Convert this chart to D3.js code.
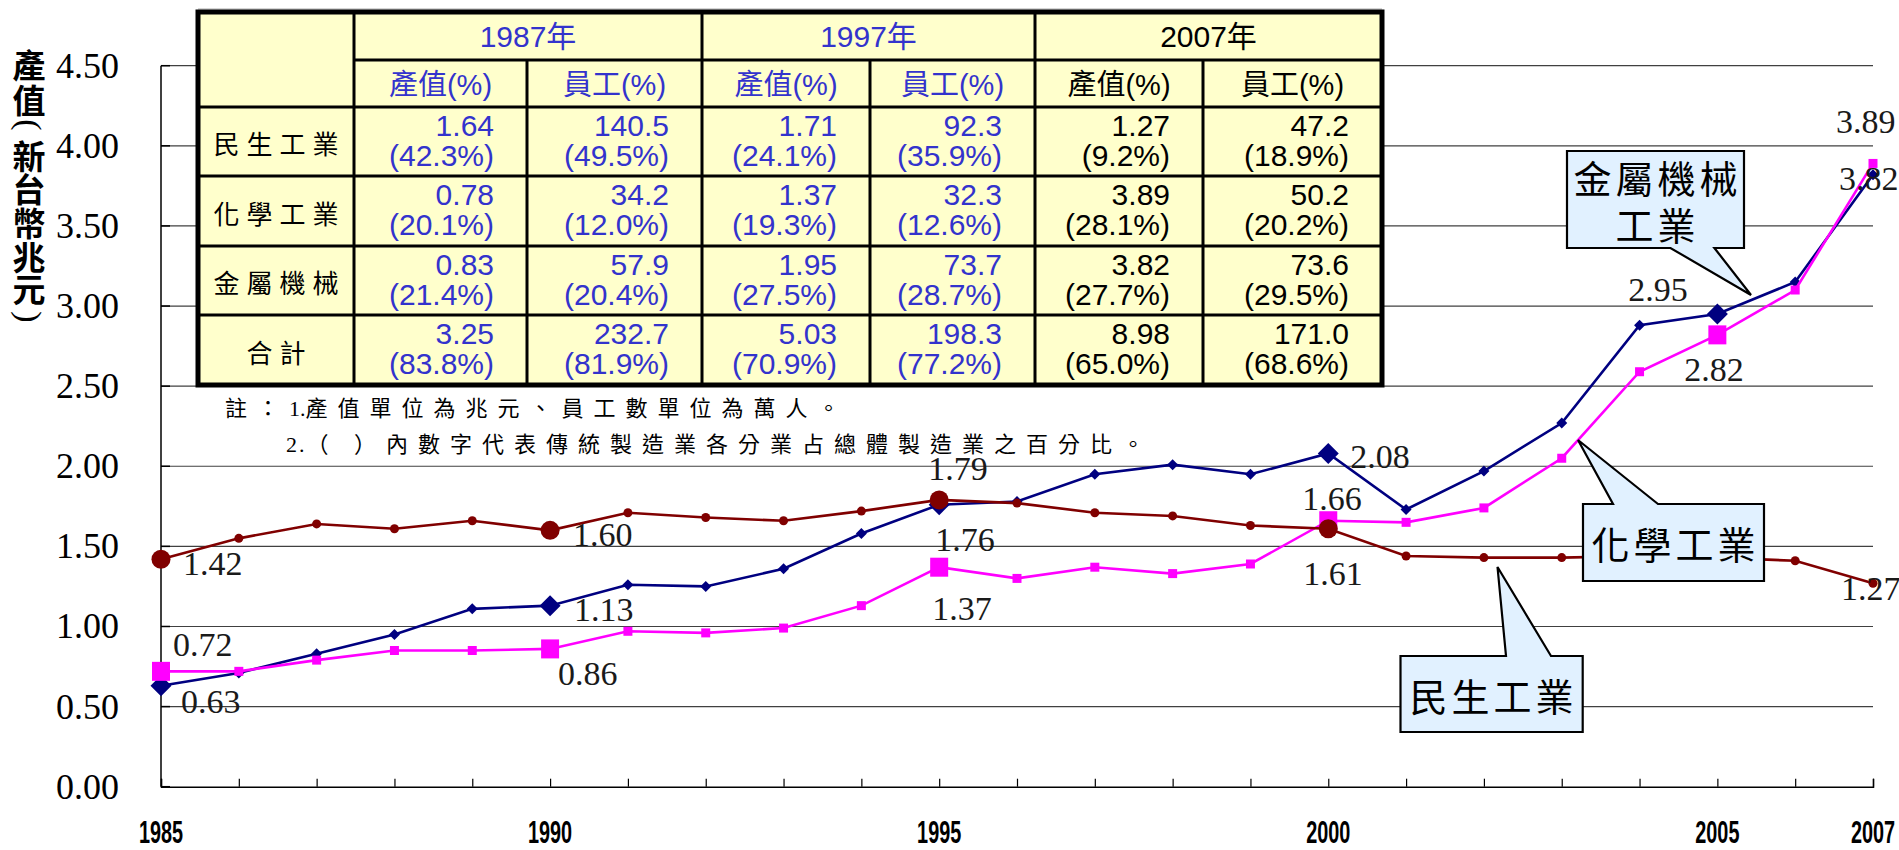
<!DOCTYPE html>
<html>
<head>
<meta charset="utf-8">
<script src="https://d3js.org/d3.v7.min.js"></script>
<style>
body { margin: 0; background: #fff; }
svg { display: block; }
</style>
</head>
<body>
<div id="chart"></div>
<script>
// canvas
var width = 1899,
    height = 850;

// x categories and series values (兆元)
var years = [1985, 1986, 1987, 1988, 1989, 1990, 1991, 1992, 1993, 1994, 1995, 1996,
             1997, 1998, 1999, 2000, 2001, 2002, 2003, 2004, 2005, 2006, 2007];
var minsheng = [1.42, 1.55, 1.64, 1.61, 1.66, 1.60, 1.71, 1.68, 1.66, 1.72, 1.79, 1.77,
                1.71, 1.69, 1.63, 1.61, 1.44, 1.43, 1.43, 1.44, 1.43, 1.41, 1.27];
var huaxue = [0.72, 0.72, 0.79, 0.85, 0.85, 0.86, 0.97, 0.96, 0.99, 1.13, 1.37, 1.30,
              1.37, 1.33, 1.39, 1.66, 1.65, 1.74, 2.05, 2.59, 2.82, 3.10, 3.89];
var jinshu = [0.63, 0.71, 0.83, 0.95, 1.11, 1.13, 1.26, 1.25, 1.36, 1.58, 1.76, 1.78,
              1.95, 2.01, 1.95, 2.08, 1.73, 1.97, 2.27, 2.88, 2.95, 3.15, 3.82];

var yTicks = [0, 0.5, 1, 1.5, 2, 2.5, 3, 3.5, 4, 4.5];
var xLabelYears = [1985, 1990, 1995, 2000, 2005, 2007];
var bigMarkerYears = [1985, 1990, 1995, 2000, 2005];
var yTitle = ["產", "值", "(", "新", "台", "幣", "兆", "元", ")"];

// table in the upper left
var tableYears = ["1987年", "1997年", "2007年"];
var tableRows = ["民生工業", "化學工業", "金屬機械", "合計"];
var subHeads = ["產值(%)", "員工(%)"];
var output1987 = [1.64, 0.78, 0.83, 3.25], outputShare1987 = [42.3, 20.1, 21.4, 83.8];
var staff1987 = [140.5, 34.2, 57.9, 232.7], staffShare1987 = [49.5, 12.0, 20.4, 81.9];
var output1997 = [1.71, 1.37, 1.95, 5.03], outputShare1997 = [24.1, 19.3, 27.5, 70.9];
var staff1997 = [92.3, 32.3, 73.7, 198.3], staffShare1997 = [35.9, 12.6, 28.7, 77.2];
var output2007 = [1.27, 3.89, 3.82, 8.98], outputShare2007 = [9.2, 28.1, 27.7, 65.0];
var staff2007 = [47.2, 50.2, 73.6, 171.0], staffShare2007 = [18.9, 20.2, 29.5, 68.6];

// notes, split where the spacing changes
var notes = [
    [["註：", 10], ["1.", 0], ["產值單位為兆元、員工數單位為萬人。", 10]],
    [["2.", 2], ["（ ）內數字代表傳統製造業各分業占總體製造業之百分比。", 10]]
];

var svg = d3.select("#chart")
    .append("svg")
    .attr("width", width)
    .attr("height", height);

var x = d3.scaleLinear().domain([1985, 2007]).range([161, 1873]);
var y = d3.scaleLinear().domain([0, 4.5]).range([786.7, 65.7]);

var serif = "'Liberation Serif','Times New Roman',serif",
    sans = "'Liberation Sans',Arial,'Noto Sans CJK TC',sans-serif",
    cjk = "'Noto Sans CJK TC','Noto Sans CJK JP',sans-serif";

// gridlines
svg.selectAll(".grid")
    .data(yTicks.filter(function(d) { return d > 0; }))
    .enter().append("line")
    .attr("x1", x(1985)).attr("x2", x(2007))
    .attr("y1", function(d) { return y(d); })
    .attr("y2", function(d) { return y(d); })
    .attr("stroke", "#404040")
    .attr("stroke-width", 1.2);

// small inside ticks on the y axis
svg.selectAll(".ytick")
    .data(yTicks)
    .enter().append("line")
    .attr("x1", x(1985)).attr("x2", x(1985) + 9)
    .attr("y1", function(d) { return y(d); })
    .attr("y2", function(d) { return y(d); })
    .attr("stroke", "#000").attr("stroke-width", 1.5);

// y axis line
svg.append("line")
    .attr("x1", x(1985)).attr("x2", x(1985))
    .attr("y1", y(4.5)).attr("y2", y(0))
    .attr("stroke", "#000").attr("stroke-width", 1.5);

// x axis with upward ticks
svg.append("g")
    .attr("transform", "translate(0," + y(0) + ")")
    .call(d3.axisBottom(x).tickValues(years).tickSize(-8).tickFormat(""))
    .call(function(g) {
        g.select(".domain").attr("stroke", "#000").attr("stroke-width", 1.5);
        g.selectAll(".tick line").attr("stroke", "#000").attr("stroke-width", 1.2);
    });

// y tick labels
svg.selectAll(".ylab")
    .data(yTicks)
    .enter().append("text")
    .attr("x", 119)
    .attr("y", function(d) { return y(d) + 12; })
    .attr("text-anchor", "end")
    .attr("font-family", serif)
    .attr("font-size", "36px")
    .attr("fill", "#000")
    .text(function(d) { return d3.format(".2f")(d); });

// x labels, bold and narrow
svg.selectAll(".xlab")
    .data(xLabelYears)
    .enter().append("text")
    .attr("transform", function(d) { return "translate(" + x(d) + ",843) scale(0.64,1)"; })
    .attr("text-anchor", "middle")
    .attr("font-family", sans)
    .attr("font-weight", "bold")
    .attr("font-size", "31px")
    .attr("fill", "#000")
    .text(function(d) { return d; });

// y axis title, stacked vertically; brackets turned on their side
var titleAdvance = [0, 35, 26, 30, 33, 34, 34, 32, 29];
var titleY = 64;
yTitle.forEach(function(ch, i) {
    titleY += titleAdvance[i];
    var isBracket = (ch === "(" || ch === ")");
    svg.append("text")
        .attr("transform", "translate(29," + titleY + ")" + (isBracket ? " rotate(90)" : ""))
        .attr("text-anchor", "middle")
        .attr("dominant-baseline", "central")
        .attr("font-family", isBracket ? serif : cjk)
        .attr("font-weight", isBracket ? "normal" : "bold")
        .attr("font-size", isBracket ? "34px" : "33px")
        .attr("fill", "#000")
        .text(ch);
});

// ---- table ----
var colEdges = [198, 354, 527, 702, 870, 1035, 1203, 1382],
    rowEdges = [12, 60, 107, 176, 246, 315, 385],
    yearColors = ["#3333cc", "#3333cc", "#000000"];

var tableCols = [
    {v: output1987, p: outputShare1987, dec: 2, k: 0},
    {v: staff1987, p: staffShare1987, dec: 1, k: 0},
    {v: output1997, p: outputShare1997, dec: 2, k: 1},
    {v: staff1997, p: staffShare1997, dec: 1, k: 1},
    {v: output2007, p: outputShare2007, dec: 2, k: 2},
    {v: staff2007, p: staffShare2007, dec: 1, k: 2}
];

var table = svg.append("g");

table.append("line")
    .attr("x1", colEdges[0]).attr("x2", colEdges[7])
    .attr("y1", 9).attr("y2", 9)
    .attr("stroke", "#aaa").attr("stroke-width", 1);

table.append("rect")
    .attr("x", colEdges[0]).attr("y", rowEdges[0])
    .attr("width", colEdges[7] - colEdges[0])
    .attr("height", rowEdges[6] - rowEdges[0])
    .attr("fill", "#ffffcc");

function tline(x1, y1, x2, y2) {
    table.append("line")
        .attr("x1", x1).attr("y1", y1).attr("x2", x2).attr("y2", y2)
        .attr("stroke", "#000").attr("stroke-width", 3);
}
[1, 3, 5].forEach(function(c) { tline(colEdges[c], rowEdges[0], colEdges[c], rowEdges[6]); });
[2, 4, 6].forEach(function(c) { tline(colEdges[c], rowEdges[1], colEdges[c], rowEdges[6]); });
tline(colEdges[1], rowEdges[1], colEdges[7], rowEdges[1]);
[2, 3, 4, 5].forEach(function(r) { tline(colEdges[0], rowEdges[r], colEdges[7], rowEdges[r]); });

table.append("rect")
    .attr("x", colEdges[0]).attr("y", rowEdges[0])
    .attr("width", colEdges[7] - colEdges[0])
    .attr("height", rowEdges[6] - rowEdges[0])
    .attr("fill", "none")
    .attr("stroke", "#000").attr("stroke-width", 5);

// year headers
tableYears.forEach(function(t, k) {
    table.append("text")
        .attr("x", (colEdges[1 + 2 * k] + colEdges[3 + 2 * k]) / 2)
        .attr("y", rowEdges[0] + 35)
        .attr("text-anchor", "middle")
        .attr("font-family", sans)
        .attr("font-size", "30px")
        .attr("fill", yearColors[k])
        .text(t);
});

// sub headers and values
tableCols.forEach(function(col, c) {
    var left = colEdges[c + 1], right = colEdges[c + 2];
    table.append("text")
        .attr("x", (left + right) / 2)
        .attr("y", rowEdges[1] + 35)
        .attr("text-anchor", "middle")
        .attr("font-family", sans)
        .attr("font-size", "29px")
        .attr("fill", yearColors[col.k])
        .text(subHeads[c % 2]);
    col.v.forEach(function(v, r) {
        var top = rowEdges[r + 2];
        table.append("text")
            .attr("x", right - 33)
            .attr("y", top + 28.5)
            .attr("text-anchor", "end")
            .attr("font-family", sans)
            .attr("font-size", "30px")
            .attr("fill", yearColors[col.k])
            .text(v.toFixed(col.dec));
        table.append("text")
            .attr("x", right - 33)
            .attr("y", top + 59)
            .attr("text-anchor", "end")
            .attr("font-family", sans)
            .attr("font-size", "30px")
            .attr("fill", yearColors[col.k])
            .text("(" + col.p[r].toFixed(1) + "%)");
    });
});

// row labels
tableRows.forEach(function(t, r) {
    table.append("text")
        .attr("x", (colEdges[0] + colEdges[1]) / 2 + 3.5)
        .attr("y", (rowEdges[r + 2] + rowEdges[r + 3]) / 2 + 1)
        .attr("text-anchor", "middle")
        .attr("dominant-baseline", "central")
        .attr("font-family", cjk)
        .attr("font-size", "26px")
        .attr("letter-spacing", "7px")
        .attr("fill", "#000")
        .text(t);
});

// notes under the table
notes.forEach(function(parts, i) {
    var t = svg.append("text")
        .attr("x", i === 0 ? 225 : 286)
        .attr("y", i === 0 ? 416 : 452)
        .attr("font-family", "'Liberation Serif','Noto Sans CJK TC',serif")
        .attr("font-size", "22px")
        .attr("fill", "#000");
    parts.forEach(function(p) {
        t.append("tspan")
            .attr("letter-spacing", p[1] + "px")
            .text(p[0]);
    });
});

// ---- series ----
function diamond(h) { return "M0," + (-h) + "L" + h + ",0L0," + h + "L" + (-h) + ",0Z"; }
function square(w, h) { return "M" + (-w / 2) + "," + (-h / 2) + "h" + w + "v" + h + "h" + (-w) + "Z"; }
function circle(r) { return "M" + (-r) + ",0a" + r + "," + r + " 0 1,0 " + (2 * r) + ",0a" + r + "," + r + " 0 1,0 " + (-2 * r) + ",0Z"; }

var series = [
    {name: "金屬機械工業", values: jinshu, color: "#000080",
     small: diamond(5.5), big: diamond(10.5),
     labels: {1985: [20, 27], 1990: [24, 15], 1995: [-4, 46], 2000: [22, 15], 2005: [-89, -13], 2007: [-34, 15]}},
    {name: "化學工業", values: huaxue, color: "#ff00ff",
     small: square(9, 9), big: square(18, 19),
     labels: {1985: [12, -15], 1990: [8, 36], 1995: [-7, 53], 2000: [-26, -11], 2005: [-33, 46], 2007: [-37, -30]}},
    {name: "民生工業", values: minsheng, color: "#800000",
     small: circle(4.5), big: circle(9.5),
     labels: {1985: [22, 16], 1990: [23, 16], 1995: [-11, -20], 2000: [-25, 56], 2007: [-32, 17]}}
];

var line = d3.line()
    .x(function(d) { return x(d.year); })
    .y(function(d) { return y(d.value); });

series.forEach(function(s) {
    var pts = years.map(function(yr, i) { return {year: yr, value: s.values[i]}; });
    var g = svg.append("g");
    g.append("path")
        .datum(pts)
        .attr("d", line)
        .attr("fill", "none")
        .attr("stroke", s.color)
        .attr("stroke-width", 2.6);
    g.selectAll(".mk")
        .data(pts)
        .enter().append("path")
        .attr("transform", function(d) { return "translate(" + x(d.year) + "," + y(d.value) + ")"; })
        .attr("d", function(d) { return bigMarkerYears.indexOf(d.year) > -1 ? s.big : s.small; })
        .attr("fill", s.color);
    s.pts = pts;
});

// data labels
series.forEach(function(s) {
    s.pts.forEach(function(d) {
        var off = s.labels[d.year];
        if (!off) return;
        svg.append("text")
            .attr("x", x(d.year) + off[0])
            .attr("y", y(d.value) + off[1])
            .attr("font-family", serif)
            .attr("font-size", "34px")
            .attr("fill", "#1a1a1a")
            .text(d.value.toFixed(2));
    });
});

// ---- callouts ----
var callouts = [
    {lines: ["金屬機械", "工業"], box: [1567, 151, 1744, 248], side: "bottom", base: [1670.5, 1714.4], tip: [1751, 295]},
    {lines: ["化學工業"], box: [1583, 504, 1764, 581], side: "top", base: [1613, 1658], tip: [1578, 440]},
    {lines: ["民生工業"], box: [1400.5, 656, 1582.7, 732], side: "top", base: [1506, 1551], tip: [1497.5, 567]}
];

callouts.forEach(function(c) {
    var x0 = c.box[0], y0 = c.box[1], x1 = c.box[2], y1 = c.box[3], p;
    if (c.side === "top") {
        p = "M" + x0 + "," + y0 + "L" + c.base[0] + "," + y0 + "L" + c.tip[0] + "," + c.tip[1] +
            "L" + c.base[1] + "," + y0 + "L" + x1 + "," + y0 + "L" + x1 + "," + y1 + "L" + x0 + "," + y1 + "Z";
    } else {
        p = "M" + x0 + "," + y0 + "L" + x1 + "," + y0 + "L" + x1 + "," + y1 + "L" + c.base[1] + "," + y1 +
            "L" + c.tip[0] + "," + c.tip[1] + "L" + c.base[0] + "," + y1 + "L" + x0 + "," + y1 + "Z";
    }
    svg.append("path")
        .attr("d", p)
        .attr("fill", "#e1f1ff")
        .attr("stroke", "#000")
        .attr("stroke-width", 2.2)
        .attr("stroke-linejoin", "miter");
    var cy = (y0 + y1) / 2, pitch = 47;
    c.lines.forEach(function(t, i) {
        svg.append("text")
            .attr("x", (x0 + x1) / 2 + 2)
            .attr("y", cy + (i - (c.lines.length - 1) / 2) * pitch)
            .attr("text-anchor", "middle")
            .attr("dominant-baseline", "central")
            .attr("font-family", cjk)
            .attr("font-size", "38px")
            .attr("letter-spacing", "4px")
            .attr("fill", "#000")
            .text(t);
    });
});
</script>
</body>
</html>
